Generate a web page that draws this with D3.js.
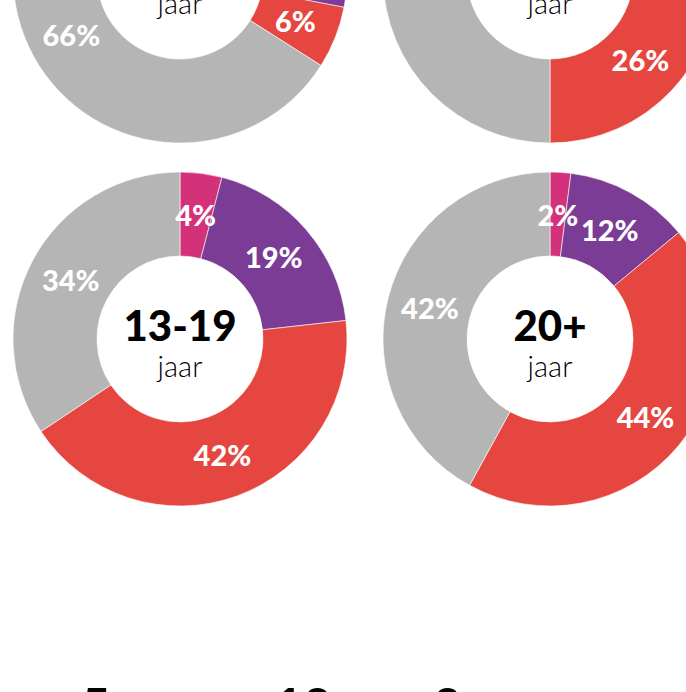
<!DOCTYPE html>
<html>
<head>
<meta charset="utf-8">
<script src="https://cdn.jsdelivr.net/npm/d3@7"></script>
<style>
  html, body { margin: 0; padding: 0; background: #fff; overflow: hidden; }
  svg { display: block; font-family: Lato, "Open Sans", sans-serif; }
</style>
</head>
<body>
<svg id="chart" width="686" height="692"></svg>
<script>
let svgWidth = 686;
let svgHeight = 692;

// age groups (top row is cut off in the picture, so its titles are guesses)
let ageGroups = ['0-6', '7-12', '13-19', '20+'];
let series = ['roze', 'paars', 'rood', 'grijs'];
let colors = ['#d3327a', '#7a3c95', '#e5463f', '#b5b5b5'];

// percentages per age group, clockwise from 12 o'clock
let roze  = [8, 6, 4, 2];
let paars = [20, 18, 19, 12];
let rood  = [6, 26, 42, 44];
let grijs = [66, 50, 34, 42];

// numbers at the bottom edge (start of the next block, mostly cut off)
let bottomNumbers = ['5', '10', '0'];

let outerR = 167;
let innerR = 83;

let svg = d3.select('#chart');

let colX = d3.scalePoint().domain([0, 1]).range([180, 550]);
let rowY = d3.scalePoint().domain([0, 1]).range([-24, 339]);
let color = d3.scaleOrdinal().domain(series).range(colors);

let pie = d3.pie().sort(null).value(d => d.value);
let arc = d3.arc().innerRadius(innerR).outerRadius(outerR);
let labelArc = d3.arc().innerRadius(innerR).outerRadius(outerR - 2);

let data = ageGroups.map((g, i) => ({
    group: g,
    values: [roze[i], paars[i], rood[i], grijs[i]].map((v, j) => ({key: series[j], value: v}))
}));

let donuts = svg.selectAll('g.donut')
    .data(data)
    .enter()
    .append('g')
    .attr('class', 'donut')
    .attr('transform', (d, i) => `translate(${colX(i % 2)},${rowY(Math.floor(i / 2))})`);

donuts.selectAll('path')
    .data(d => pie(d.values))
    .enter()
    .append('path')
    .attr('d', arc)
    .attr('fill', d => color(d.data.key))
    .attr('stroke', '#fff')
    .attr('stroke-width', 0.6);

donuts.selectAll('text.pct')
    .data(d => pie(d.values))
    .enter()
    .append('text')
    .attr('class', 'pct')
    .attr('transform', d => `translate(${labelArc.centroid(d)})`)
    .attr('text-anchor', 'middle')
    .attr('dy', '0.36em')
    .attr('fill', '#fff')
    .attr('font-size', 29)
    .attr('font-weight', 900)
    .text(d => d.data.value + '%');

donuts.append('text')
    .attr('text-anchor', 'middle')
    .attr('y', 2)
    .attr('font-size', 42)
    .attr('font-weight', 900)
    .attr('fill', '#000')
    .text(d => d.group);

donuts.append('text')
    .attr('text-anchor', 'middle')
    .attr('y', 38)
    .attr('font-size', 29)
    .attr('font-weight', 300)
    .attr('fill', '#000')
    .text('jaar');

let numX = d3.scaleOrdinal().domain(bottomNumbers).range([81, 274, 433]);
svg.selectAll('text.num')
    .data(bottomNumbers)
    .enter()
    .append('text')
    .attr('class', 'num')
    .attr('x', d => numX(d))
    .attr('y', 724)
    .attr('font-size', 50)
    .attr('font-weight', 900)
    .attr('fill', '#000')
    .text(d => d);
</script>
</body>
</html>
